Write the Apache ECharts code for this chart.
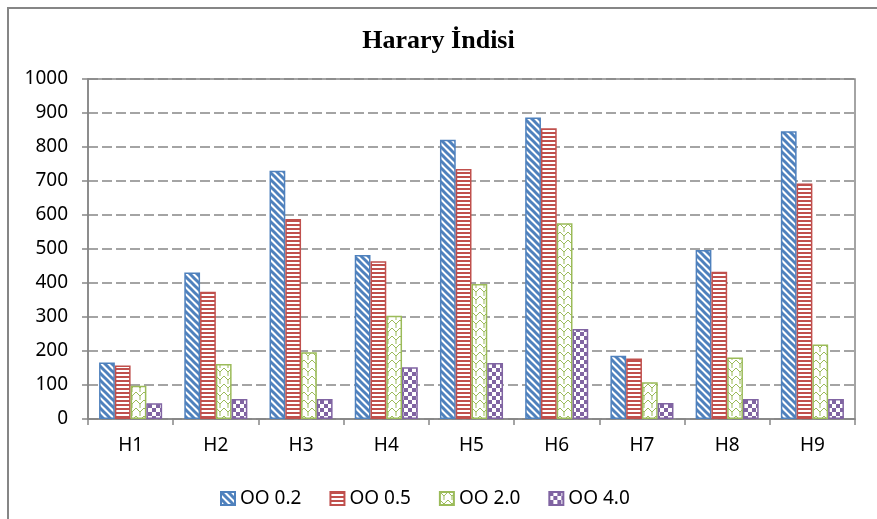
<!DOCTYPE html>
<html>
<head>
<meta charset="utf-8">
<script src="https://cdn.jsdelivr.net/npm/echarts@6/dist/echarts.min.js"></script>
<style>
  html, body { margin: 0; padding: 0; background: #fff; }
  #chart { width: 877px; height: 519px; }
</style>
</head>
<body>
<div id="chart"></div>
<script>
// 数据
const categories = ['H1', 'H2', 'H3', 'H4', 'H5', 'H6', 'H7', 'H8', 'H9']
const seriesNames = ['OO 0.2', 'OO 0.5', 'OO 2.0', 'OO 4.0']
const oo02 = [166, 431, 730, 482, 821, 887, 186, 497, 846]
const oo05 = [157, 374, 588, 464, 735, 855, 178, 433, 693]
const oo20 = [98, 162, 196, 304, 397, 576, 108, 181, 219]
const oo40 = [46, 59, 59, 152, 165, 265, 47, 59, 59]

// 填充图案
function makeTile (w, h, draw) {
  let c = document.createElement('canvas')
  c.width = w
  c.height = h
  let ctx = c.getContext('2d')
  ctx.fillStyle = '#ffffff'
  ctx.fillRect(0, 0, w, h)
  draw(ctx)
  return { image: c, repeat: 'repeat' }
}

const blue = '#4F81BD'
const red = '#C0504D'
const green = '#9BBB59'
const purple = '#8064A2'

const patterns = [
  // 斜线
  makeTile(7, 7, function (ctx) {
    ctx.strokeStyle = blue
    ctx.lineWidth = 3
    for (let k = -7; k <= 7; k += 7) {
      ctx.beginPath()
      ctx.moveTo(k - 2, -2)
      ctx.lineTo(k + 9, 9)
      ctx.stroke()
    }
  }),
  // 横线
  makeTile(4, 4, function (ctx) {
    ctx.fillStyle = red
    ctx.fillRect(0, 0, 4, 2)
  }),
  // 网格
  makeTile(8, 8, function (ctx) {
    ctx.strokeStyle = green
    ctx.lineWidth = 1
    ctx.beginPath()
    ctx.moveTo(0, 0)
    ctx.lineTo(4, 4)
    ctx.lineTo(8, 0)
    ctx.moveTo(4, 4)
    ctx.lineTo(4, 8)
    ctx.stroke()
  }),
  // 棋盘
  makeTile(8, 8, function (ctx) {
    ctx.fillStyle = purple
    ctx.fillRect(0, 0, 4, 4)
    ctx.fillRect(4, 4, 4, 4)
  })
]
const borderColors = [blue, red, green, purple]
const values = [oo02, oo05, oo20, oo40]

let series = []
for (let i = 0; i < seriesNames.length; i++) {
  series.push({
    name: seriesNames[i],
    type: 'bar',
    data: values[i],
    barGap: '0%',
    barCategoryGap: '26%',
    itemStyle: {
      color: patterns[i],
      borderColor: borderColors[i],
      borderWidth: 1.5
    }
  })
}

const textFont = '"Noto Sans", sans-serif'
let myChart = echarts.init(document.getElementById('chart'))
let option = {
  animation: false,
  backgroundColor: '#ffffff',
  title: {
    text: 'Harary İndisi',
    left: 'center',
    top: 23,
    textStyle: {
      fontFamily: '"Liberation Serif", serif',
      fontWeight: 'bold',
      fontSize: 26,
      color: '#000'
    }
  },
  graphic: [{
    type: 'rect',
    shape: { x: 8, y: 8, width: 1000, height: 1000 },
    style: { fill: 'none', stroke: '#868686', lineWidth: 2 },
    silent: true
  }],
  legend: {
    data: seriesNames,
    left: 215,
    top: 484,
    icon: 'rect',
    itemWidth: 14,
    itemHeight: 13,
    itemGap: 28,
    textStyle: { fontFamily: textFont, fontSize: 19, color: '#000' }
  },
  grid: {
    left: 88,
    right: 22,
    top: 79,
    bottom: 100,
    show: true,
    borderColor: '#868686',
    borderWidth: 1.5
  },
  xAxis: {
    type: 'category',
    data: categories,
    axisLine: { lineStyle: { color: '#868686', width: 1.5 } },
    axisTick: { show: true, length: 6, lineStyle: { color: '#868686', width: 1.5 } },
    axisLabel: { color: '#000', fontFamily: textFont, fontSize: 19, margin: 17 }
  },
  yAxis: {
    type: 'value',
    min: 0,
    max: 1000,
    interval: 100,
    axisLine: { show: true, lineStyle: { color: '#868686', width: 1.5 } },
    axisTick: { show: true, length: 6, lineStyle: { color: '#868686', width: 1.5 } },
    axisLabel: {
      color: '#000',
      fontFamily: textFont,
      fontSize: 19,
      margin: 20,
      formatter: function (v) { return String(v) }
    },
    splitLine: { lineStyle: { color: '#868686', width: 1.5, type: [10, 4] } }
  },
  series: series
}
myChart.setOption(option)
</script>
</body>
</html>
